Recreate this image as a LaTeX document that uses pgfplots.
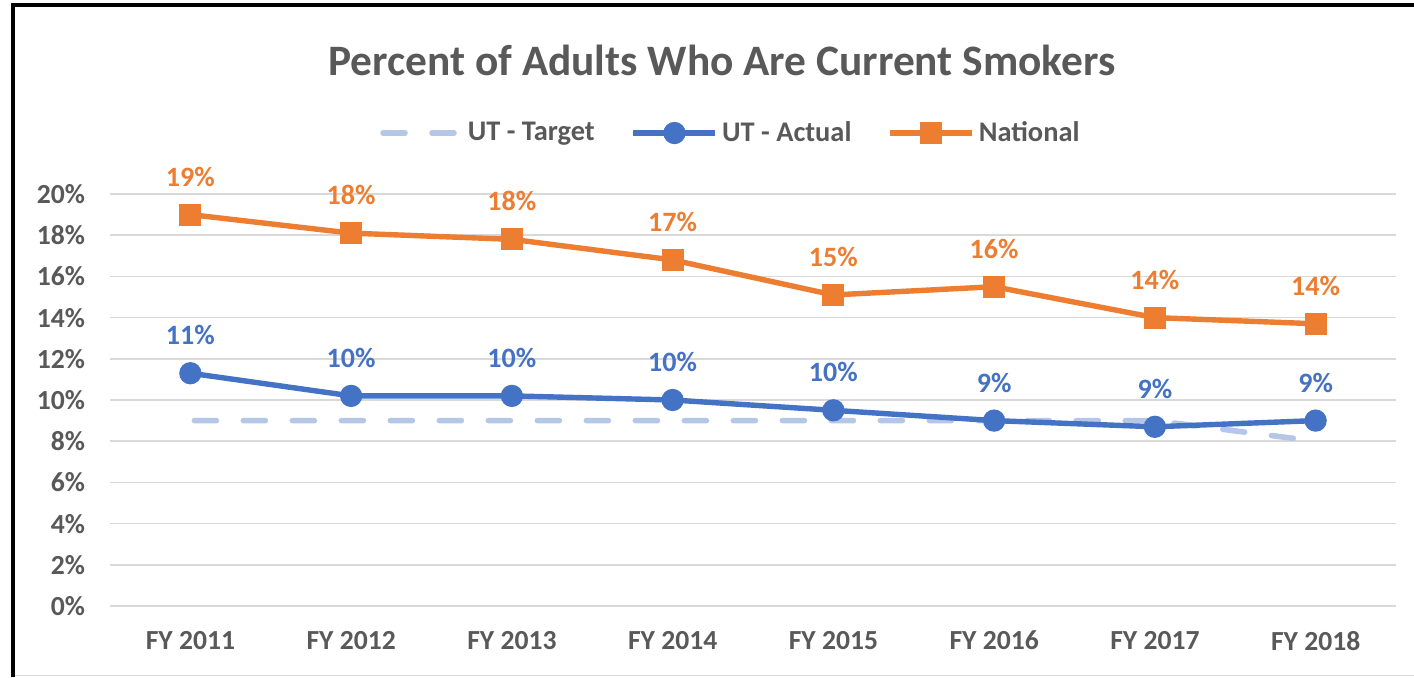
\documentclass[border=0pt]{standalone}
\usepackage{pgfplots}
\pgfplotsset{compat=1.18}
\usepackage{pgfplotstable}
\usepackage{fontspec}
\setmainfont{Carlito}
\definecolor{txtgray}{HTML}{595959}
\definecolor{gridgray}{HTML}{D9D9D9}
\definecolor{natorange}{HTML}{ED7D31}
\definecolor{utblue}{HTML}{4472C4}
\definecolor{tgtblue}{HTML}{B4C7E7}

\pgfplotstableread{
x y lab
0 9 9
1 9 9
2 9 9
3 9 9
4 9 9
5 9 9
6 9 9
7 8 8
}\target
\pgfplotstableread{
x y lab
0 11.3 11
1 10.2 10
2 10.2 10
3 10.0 10
4 9.5 10
5 9.0 9
6 8.7 9
7 9.0 9
}\actual
\pgfplotstableread{
x y lab
0 19.0 19
1 18.1 18
2 17.8 18
3 16.8 17
4 15.1 15
5 15.5 16
6 14.0 14
7 13.7 14
}\national

\begin{document}
\begin{tikzpicture}
\useasboundingbox (0,0) rectangle (707pt,338.5pt);
\fill[white] (0,0) rectangle (707pt,338.5pt);
\begin{axis}[
  at={(55pt,35.5pt)}, anchor=south west,
  scale only axis, width=643pt, height=206pt,
  xmin=-0.5, xmax=7.5, ymin=0, ymax=20,
  axis line style={draw=none},
  major tick length=0pt,
  xtick={0,...,7},
  xticklabels={FY 2011,FY 2012,FY 2013,FY 2014,FY 2015,FY 2016,FY 2017,FY 2018},
  ytick={0,2,...,20},
  yticklabels={0\%,2\%,4\%,6\%,8\%,10\%,12\%,14\%,16\%,18\%,20\%},
  ymajorgrids, grid style={gridgray, line width=0.8pt},
  tick label style={font=\fontsize{13.8}{16}\selectfont\bfseries, text=txtgray},
  yticklabel style={xshift=-9pt},
  xticklabel style={yshift=-9pt},
  clip=false,
  legend columns=3,
  legend style={draw=none, fill=none, at={(0.482,1.148)}, anchor=center,
    font=\fontsize{14.2}{16}\selectfont\bfseries, text=txtgray,
    /tikz/every even column/.append style={column sep=16pt}},
  legend cell align=left,
  legend image code/.code={\draw[mark repeat=2,mark phase=2,#1] plot coordinates {(0pt,0pt) (20.5pt,0pt) (41pt,0pt)};},
  nodes near coords={\pgfplotspointmeta\%},
  every node near coord/.append style={anchor=center, yshift=19pt, font=\fontsize{14}{16}\selectfont\bfseries},
]
\addplot[tgtblue, line width=2.8pt, line cap=round, dash pattern=on 11pt off 13.5pt, dash phase=-2pt, nodes near coords={}] table[x=x,y=y] {\target};
\addlegendentry{UT - Target}
\addplot[utblue, line width=2.7pt, mark=*, mark size=4.2pt, mark options={solid}, point meta=explicit symbolic,
  every node near coord/.append style={text=utblue}] table[x=x,y=y,meta=lab] {\actual};
\addlegendentry{UT - Actual}
\addplot[natorange, line width=2.7pt, mark=square*, mark size=4.2pt, mark options={solid}, point meta=explicit symbolic,
  every node near coord/.append style={text=natorange}] table[x=x,y=y,meta=lab] {\national};
\addlegendentry{National}
\end{axis}
\node[font=\fontsize{21.7}{26}\selectfont\bfseries, text=txtgray] at (361pt,308.5pt) {Percent of Adults Who Are Current Smokers};
\draw[black, line width=2pt] (6.5pt,0) -- (6.5pt,335.85pt) -- (707pt,335.85pt);
\draw[gridgray, line width=0.8pt] (7.5pt,0.8pt) -- (707pt,0.8pt);
\end{tikzpicture}
\end{document}
